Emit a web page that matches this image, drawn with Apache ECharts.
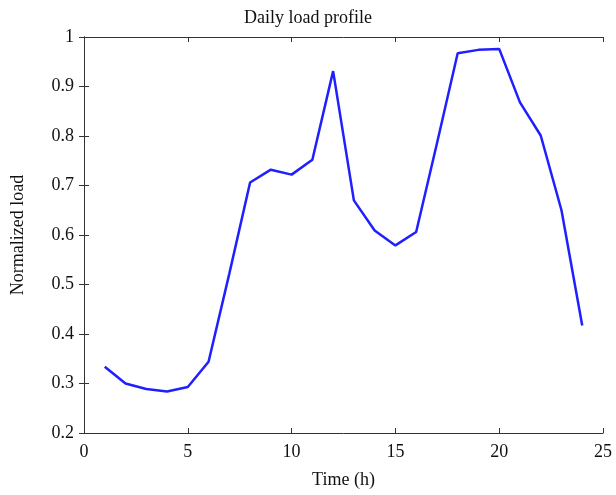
<!DOCTYPE html>
<html><head><meta charset="utf-8">
<script src="https://cdn.jsdelivr.net/npm/echarts@6/dist/echarts.min.js"></script>
<style>html,body{margin:0;padding:0;background:#fff}#c{width:616px;height:495px}</style>
</head><body><div id="c"></div>
<script>
const hours = [1,2,3,4,5,6,7,8,9,10,11,12,13,14,15,16,17,18,19,20,21,22,23,24];
const load = [0.334,0.300,0.289,0.284,0.293,0.344,0.522,0.706,0.732,0.722,0.752,0.931,0.670,0.609,0.579,0.606,0.785,0.967,0.974,0.976,0.868,0.801,0.650,0.417];
const titleText = 'Daily load profile';
const xName = 'Time (h)';
const yName = 'Normalized load';

const font = 'Liberation Serif, Times New Roman, serif';
const axisLine = {show:true, lineStyle:{color:'#333', width:1}};
const tick = {show:true, inside:true, length:5, lineStyle:{color:'#333'}};
const chart = echarts.init(document.getElementById('c'));
chart.setOption({
  animation:false,
  title:{text:titleText, left:'center', top:4, textStyle:{fontFamily:font, fontSize:18, fontWeight:'normal', color:'#111'}},
  grid:{left:84, right:13, top:37, bottom:62},
  xAxis:[{
    type:'value', min:0, max:25, interval:5, position:'bottom',
    name:xName, nameLocation:'middle', nameGap:38,
    nameTextStyle:{fontFamily:font, fontSize:18, color:'#111'},
    axisLine:axisLine, axisTick:tick, splitLine:{show:false},
    axisLabel:{fontFamily:font, fontSize:18, color:'#111', margin:10}
  },{
    type:'value', min:0, max:25, interval:5, position:'top',
    axisLine:axisLine, axisTick:tick, splitLine:{show:false}, axisLabel:{show:false}
  }],
  yAxis:[{
    type:'value', min:0.2, max:1, interval:0.1, position:'left',
    name:yName, nameLocation:'middle', nameGap:57,
    nameTextStyle:{fontFamily:font, fontSize:18, color:'#111'},
    axisLine:axisLine, axisTick:tick, splitLine:{show:false},
    axisLabel:{fontFamily:font, fontSize:18, color:'#111', margin:10,
      formatter:v=>String(Math.round(v*10)/10)}
  },{
    type:'value', min:0.2, max:1, interval:0.1, position:'right',
    axisLine:axisLine, axisTick:tick, splitLine:{show:false}, axisLabel:{show:false}
  }],
  series:[{
    type:'line', xAxisIndex:0, yAxisIndex:0,
    data:hours.map((h,i)=>[h,load[i]]),
    showSymbol:false, lineStyle:{color:'#1f1fff', width:2.5}
  }]
});
</script></body></html>
